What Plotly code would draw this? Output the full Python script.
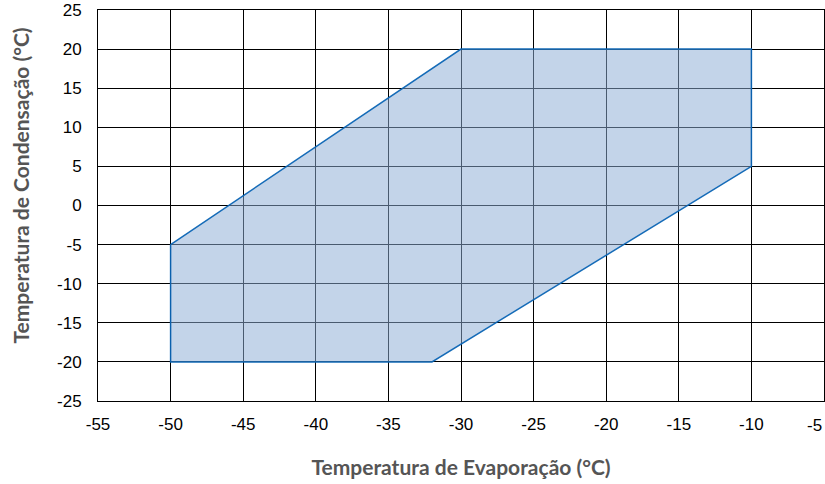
import plotly.graph_objects as go

evap = [-50, -30, -10, -10, -32, -50, -50]
cond = [-5, 20, 20, 5, -20, -20, -5]
x_ticks = [-55, -50, -45, -40, -35, -30, -25, -20, -15, -10, -5]
y_ticks = [-25, -20, -15, -10, -5, 0, 5, 10, 15, 20, 25]
x_title = "Temperatura de Evaporação (°C)"
y_title = "Temperatura de Condensação (°C)"

fig = go.Figure()
fig.add_trace(go.Scatter(
    x=evap, y=cond, mode="lines", fill="toself",
    fillcolor="rgba(140,172,212,0.52)", line=dict(color="rgba(10,100,180,0.95)", width=1.5),
    hoverinfo="skip", showlegend=False))

tick_font = dict(family="Liberation Sans, Arial", size=17, color="#000")
title_font = dict(family="Lato", size=21, color="#555555", weight="bold")
axis_common = dict(showgrid=True, gridcolor="#000000", gridwidth=1, automargin=False,
                   zeroline=False, showline=True, linecolor="#000000", linewidth=1,
                   mirror=True, ticks="", layer="above traces", tickfont=tick_font)

# last x tick label is drawn right-aligned so it stays inside the page
x_ticktext = [str(v) for v in x_ticks[:-1]] + [""]
fig.add_annotation(x=x_ticks[-1], y=0, xref="x", yref="paper", text=str(x_ticks[-1]),
                   showarrow=False, xanchor="right", yanchor="middle", yshift=-24,
                   font=tick_font)
# y axis title
fig.add_annotation(x=0, y=0.5, xref="paper", yref="paper", text=y_title, textangle=-90,
                   showarrow=False, xanchor="center", yanchor="middle",
                   xshift=-78, yshift=20, font=title_font)

fig.update_layout(
    width=825, height=484,
    margin=dict(l=98, r=1, t=10, b=83),
    paper_bgcolor="white", plot_bgcolor="white",
    xaxis=dict(range=[-55, -5], tickvals=x_ticks, ticktext=x_ticktext,
               ticklabelstandoff=8,
               title=dict(text=x_title, standoff=26, font=title_font),
               **axis_common),
    yaxis=dict(range=[-25, 25], tickvals=y_ticks, ticktext=[str(v) for v in y_ticks],
               ticklabelstandoff=12,
               **axis_common),
)
fig.write_html("out.html", config={"displayModeBar": False},
               post_script="document.body.style.margin='0';")
